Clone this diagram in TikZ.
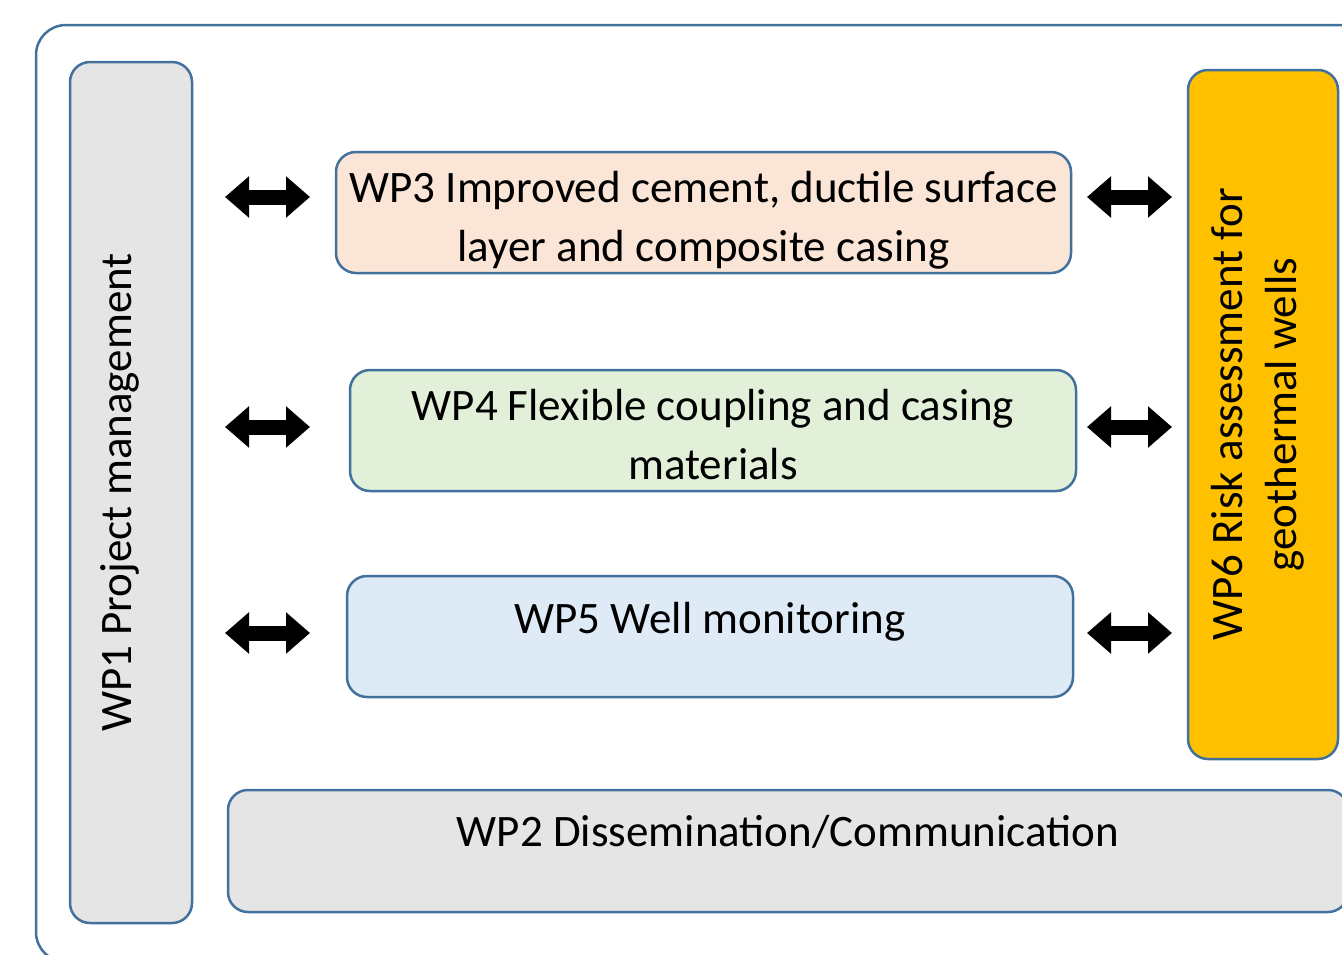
\documentclass[tikz,border=0pt]{standalone}
\usepackage{fontspec}
\setmainfont{Carlito}
\usetikzlibrary{arrows.meta}
\definecolor{bord}{HTML}{41719C}
\definecolor{graybox}{HTML}{E5E5E5}
\definecolor{peach}{HTML}{FBE5D6}
\definecolor{lgreen}{HTML}{E2F0D9}
\definecolor{lblue}{HTML}{DEEBF7}
\definecolor{gold}{HTML}{FFC000}
\begin{document}
\begin{tikzpicture}[x=1pt,y=-1pt,
  wp/.style={draw=bord, line width=2.5pt, rounded corners=20pt, inner sep=0pt,
    font=\fontsize{45}{59}\selectfont, align=center},
  vwp/.style={wp, rotate=90, font=\fontsize{45}{54}\selectfont},
  dbl/.style={line width=15pt, {Triangle[width=40pt,length=24pt]}-{Triangle[width=40pt,length=24pt]}}]
\useasboundingbox (0,0) rectangle (1342,954);
\clip (0,0) rectangle (1342,954);
\fill[white] (0,0) rectangle (1342,954);
% outer frame
\draw[draw=bord, line width=2.5pt, rounded corners=30pt] (36,25) rectangle (1420,962);
% boxes
\node[vwp, fill=graybox, minimum width=861pt, minimum height=122pt, text depth=30pt] (wp1) at (131,492.5) {WP1 Project management};
\node[wp, fill=peach, minimum width=735pt, minimum height=121pt, text height=108pt, text depth=10pt] (wp3) at (703.5,212.5) {WP3 Improved cement, ductile surface\\layer and composite casing};
\node[wp, fill=lgreen, minimum width=726pt, minimum height=121pt, text height=108pt, text depth=10pt] (wp4) at (713,430.5) {WP4 Flexible coupling and casing\\materials};
\node[wp, fill=lblue, minimum width=726pt, minimum height=121pt, text depth=37pt] (wp5) at (710,636.5) {WP5 Well monitoring};
\node[vwp, fill=gold, minimum width=689pt, minimum height=150pt, text depth=18pt] (wp6) at (1263,414.5) {WP6 Risk assessment for\\geothermal wells};
\node[wp, fill=graybox, minimum width=1120pt, minimum height=122pt, text depth=40pt] (wp2) at (788,851) {WP2 Dissemination/Communication};
% arrow end points
\coordinate (l3a) at (225,197); \coordinate (l3b) at (310,197);
\coordinate (l4a) at (225,427); \coordinate (l4b) at (310,427);
\coordinate (l5a) at (225,633); \coordinate (l5b) at (310,633);
\coordinate (r3a) at (1087,197); \coordinate (r3b) at (1172,197);
\coordinate (r4a) at (1087,427); \coordinate (r4b) at (1172,427);
\coordinate (r5a) at (1087,633); \coordinate (r5b) at (1172,633);
\foreach \p in {l3,l4,l5,r3,r4,r5} \draw[dbl] (\p a) -- (\p b);
\end{tikzpicture}
\end{document}
